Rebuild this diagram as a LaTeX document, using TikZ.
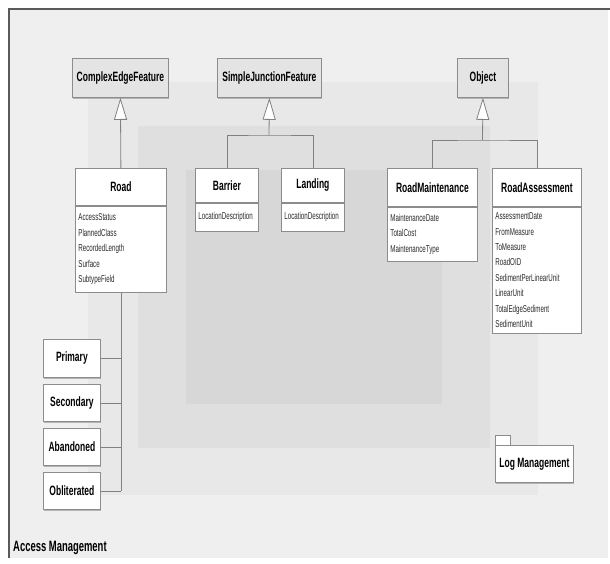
\documentclass[tikz,border=0pt]{standalone}
\usepackage{fontspec}
\setmainfont{Liberation Sans}[FakeStretch=0.7]
\newfontfamily\hdrf{Liberation Sans}[FakeStretch=0.63]
\newfontfamily\attf{Liberation Sans}[FakeStretch=0.62]
\usetikzlibrary{arrows.meta,shadows}
\definecolor{framebg}{HTML}{EFEFEF}
\definecolor{framedark}{HTML}{5A5A5A}
\definecolor{layA}{HTML}{E8E8E8}
\definecolor{layB}{HTML}{DFDFDF}
\definecolor{layC}{HTML}{D7D7D7}
\definecolor{boxline}{HTML}{8C8C8C}
\definecolor{shadowc}{HTML}{B4B4B4}
\definecolor{conn}{HTML}{808080}
\definecolor{topfill}{HTML}{E4E4E4}
\definecolor{attrc}{HTML}{2A2A2A}
\tikzset{
  uml/.style={draw=boxline, fill=white, line width=0.8pt, inner sep=0pt,
    general shadow={fill=shadowc, shadow xshift=1pt, shadow yshift=-1.2pt}},
  hdr/.style={uml, anchor=north west, font=\hdrf\fontsize{13.5}{15}\selectfont\bfseries, text=black},
  topbox/.style={hdr, fill=topfill},
  att/.style={uml, anchor=north, font=\attf\fontsize{10}{15.4}\selectfont, text=attrc,
    align=left, inner xsep=3pt},
  link/.style={draw=conn, line width=0.8pt},
  gen/.style={link, -{Triangle[width=13pt,length=22pt,fill=white]}},
  pkgtab/.style={uml, anchor=north west},
}
\begin{document}
\begin{tikzpicture}[x=1pt,y=-1pt]
\useasboundingbox (0,0) rectangle (610,564);
% background
\fill[white] (0,0) rectangle (610,564);
\fill[framebg] (9,9) rectangle (608,558);
\fill[layA] (88,82) rectangle (538,495);
\fill[layB] (138,126) rectangle (490,448);
\fill[layC] (186,170) rectangle (442,404);
\draw[framedark, line width=1.6pt] (9,558) -- (9,9) -- (610,9);

% parent classes
\node[topbox, minimum width=96pt, minimum height=39pt] (cef) at (72,58) {ComplexEdgeFeature};
\node[topbox, minimum width=104pt, minimum height=39pt] (sjf) at (217,58) {SimpleJunctionFeature};
\node[topbox, minimum width=51pt, minimum height=39pt] (obj) at (457,58) {Object};

% classes
\node[hdr, minimum width=91pt, minimum height=37pt] (road) at (75,168) {Road};
\node[att, text width=85pt, minimum height=86pt] (roadattr) at (road.south)
  {AccessStatus\\PlannedClass\\RecordedLength\\Surface\\SubtypeField};

\node[hdr, minimum width=63pt, minimum height=34pt] (barrier) at (195,168) {Barrier};
\node[att, text width=57pt, minimum height=28pt] (barrierattr) at (barrier.south)
  {LocationDescription};

\node[hdr, minimum width=63pt, minimum height=34pt] (landing) at (281,168) {Landing};
\node[att, text width=57pt, minimum height=28pt] (landingattr) at (landing.south)
  {LocationDescription};

\node[hdr, minimum width=90pt, minimum height=38pt] (rm) at (387,168) {RoadMaintenance};
\node[att, text width=84pt, minimum height=54pt] (rmattr) at (rm.south)
  {MaintenanceDate\\TotalCost\\MaintenanceType};

\node[hdr, minimum width=89pt, minimum height=38pt] (ra) at (492,168) {RoadAssessment};
\node[att, text width=83pt, minimum height=126pt] (raattr) at (ra.south)
  {AssessmentDate\\FromMeasure\\ToMeasure\\RoadOID\\SedimentPerLinearUnit\\LinearUnit\\TotalEdgeSediment\\SedimentUnit};

% subtypes
\node[hdr, minimum width=57pt, minimum height=38pt] (primary) at (43,339) {Primary};
\node[hdr, minimum width=57pt, minimum height=37pt] (secondary) at (43,384) {Secondary};
\node[hdr, minimum width=57pt, minimum height=37pt] (abandoned) at (43,428) {Abandoned};
\node[hdr, minimum width=57pt, minimum height=37pt] (obliterated) at (43,472) {Obliterated};

% package
\node[pkgtab, minimum width=15pt, minimum height=10pt] (logtab) at (495,435) {};
\node[hdr, minimum width=78pt, minimum height=37pt] (logm) at (495,445) {Log Management};

% generalisations
\coordinate (j1) at (269,135);
\coordinate (j2) at (482.5,140);
\draw[gen] (road.north) -- (cef.south);
\draw[link] (barrier.north) |- (j1) -| (landing.north);
\draw[gen] (j1) -- (sjf.south);
\draw[link] (rm.north) |- (j2) -| (ra.north);
\draw[gen] (j2) -- (obj.south);

% subtype links
\draw[link] (roadattr.south) -- (obliterated.east -| roadattr.south);
\draw[link] (primary.east) -- (primary.east -| roadattr.south);
\draw[link] (secondary.east) -- (secondary.east -| roadattr.south);
\draw[link] (abandoned.east) -- (abandoned.east -| roadattr.south);
\draw[link] (obliterated.east) -- (obliterated.east -| roadattr.south);

\node[anchor=west, inner sep=0pt, font=\hdrf\fontsize{15}{17}\selectfont\bfseries] (title) at (13,548) {Access Management};
\end{tikzpicture}
\end{document}
